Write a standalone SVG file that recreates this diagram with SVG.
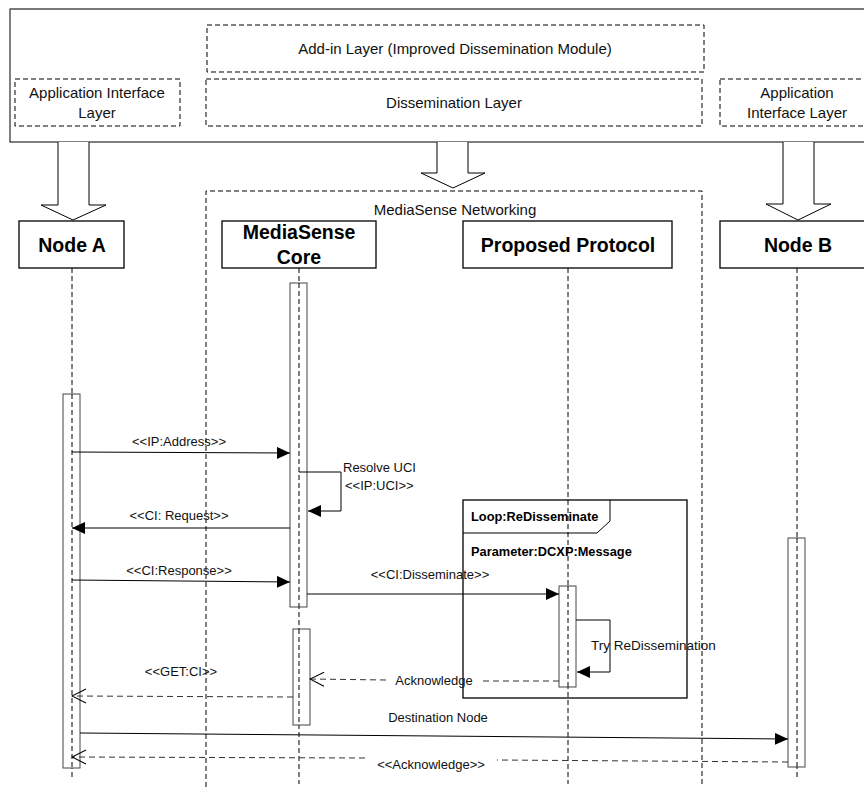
<svg xmlns="http://www.w3.org/2000/svg" width="864" height="787" viewBox="0 0 864 787">
  <style>
    .txt { font-family: "Liberation Sans", Arial, sans-serif; font-size: 13px; fill: #111; }
    .lay { font-family: "Liberation Sans", Arial, sans-serif; font-size: 15px; fill: #111; }
    .bold { font-family: "Liberation Sans", Arial, sans-serif; font-weight: bold; font-size: 19.5px; fill: #000; }
    .sbold { font-family: "Liberation Sans", Arial, sans-serif; font-weight: bold; font-size: 12.8px; fill: #000; }
    .dash { fill: none; stroke: #000; stroke-width: 1; stroke-dasharray: 5 3; }
    .box { fill: #fff; stroke: #000; stroke-width: 1.3; }
    .bar { fill: #fff; stroke: #444; stroke-width: 1; }
    .msg { fill: none; stroke: #000; stroke-width: 1; }
    .rmsg { fill: none; stroke: #333; stroke-width: 1; stroke-dasharray: 6 4; }
    .blk { fill: #fff; stroke: #000; stroke-width: 1; }
  </style>
  <defs>
    <marker id="solidHead" markerWidth="14" markerHeight="12" refX="13" refY="6" orient="auto" markerUnits="userSpaceOnUse">
      <path d="M0,0 L13,6 L0,12 Z" fill="#000"/>
    </marker>
    <marker id="openHead" markerWidth="16" markerHeight="16" refX="15" refY="8" orient="auto" markerUnits="userSpaceOnUse">
      <path d="M1,1 L15,8 L1,15" fill="none" stroke="#000" stroke-width="1"/>
    </marker>
  </defs>

  <rect width="864" height="787" fill="#fff"/>

  <!-- System layer stack -->
  <g id="layers">
    <rect x="10" y="9" width="870" height="133" fill="#fff" stroke="#000" stroke-width="1"/>
    <line x1="10" y1="9" x2="864" y2="9" stroke="#777" stroke-width="1.5"/>
    <g id="addin-layer">
      <rect x="207" y="25" width="497" height="47" class="dash"/>
      <text class="lay" x="455" y="54" text-anchor="middle">Add-in Layer (Improved Dissemination Module)</text>
    </g>
    <g id="dissemination-layer">
      <rect x="206" y="79" width="496" height="47" class="dash"/>
      <text class="lay" x="454" y="108" text-anchor="middle">Dissemination Layer</text>
    </g>
    <g id="app-layer-a">
      <rect x="15" y="79" width="165" height="47" class="dash"/>
      <text class="lay" x="97" y="98" text-anchor="middle">Application Interface</text>
      <text class="lay" x="97" y="118" text-anchor="middle">Layer</text>
    </g>
    <g id="app-layer-b">
      <rect x="720" y="79" width="160" height="47" class="dash"/>
      <text class="lay" x="797" y="98" text-anchor="middle">Application</text>
      <text class="lay" x="797" y="118" text-anchor="middle">Interface Layer</text>
    </g>
  </g>

  <!-- Block arrows from layers -->
  <g id="block-arrows">
    <path class="blk" d="M58,142 L58,205 L41,205 L73,220 L106,205 L89,205 L89,142"/>
    <path class="blk" d="M437,142 L437,173 L421,173 L453,188 L485,173 L468,173 L468,142"/>
    <path class="blk" d="M783,142 L783,204 L766,204 L798,220 L831,204 L814,204 L814,142"/>
  </g>

  <!-- MediaSense Networking boundary -->
  <g id="mediasense-networking">
    <path class="dash" d="M206,787 L206,191 L702,191 L702,787"/>
    <text class="lay" x="455" y="215" text-anchor="middle">MediaSense Networking</text>
  </g>

  <!-- Lifelines -->
  <g id="lifelines">
    <line class="dash" x1="72" y1="268" x2="72" y2="778"/>
    <line class="dash" x1="299" y1="268" x2="299" y2="784"/>
    <line class="dash" x1="568" y1="268" x2="568" y2="784"/>
    <line class="dash" x1="797" y1="268" x2="797" y2="780"/>
  </g>

  <!-- Participants -->
  <g id="node-a">
    <rect class="box" x="19" y="221" width="105" height="47"/>
    <text class="bold" x="72" y="252" text-anchor="middle">Node A</text>
  </g>
  <g id="mediasense-core">
    <rect class="box" x="222" y="221" width="154" height="47"/>
    <text class="bold" x="299" y="239" text-anchor="middle">MediaSense</text>
    <text class="bold" x="299" y="264" text-anchor="middle">Core</text>
  </g>
  <g id="proposed-protocol">
    <rect class="box" x="463" y="221" width="209" height="47"/>
    <text class="bold" x="568" y="252" text-anchor="middle">Proposed Protocol</text>
  </g>
  <g id="node-b">
    <rect class="box" x="720" y="221" width="160" height="47"/>
    <text class="bold" x="798" y="252" text-anchor="middle">Node B</text>
  </g>

  <!-- Loop fragment -->
  <g id="loop-frame">
    <rect x="463" y="500" width="224" height="198" fill="none" stroke="#000" stroke-width="1.3"/>
    <path d="M463,533 L597,533 L610,521 L610,500" fill="none" stroke="#000" stroke-width="1"/>
    <text class="sbold" x="471" y="521">Loop:ReDisseminate</text>
    <text class="sbold" x="471" y="556">Parameter:DCXP:Message</text>
  </g>

  <!-- Activation bars -->
  <g id="activations">
    <rect class="bar" x="63" y="394" width="17" height="374"/>
    <rect class="bar" x="290" y="283" width="17" height="324"/>
    <rect class="bar" x="293" y="629" width="17" height="96"/>
    <rect class="bar" x="559" y="586" width="17" height="101"/>
    <rect class="bar" x="788" y="538" width="17" height="229"/>
    <line class="dash" x1="72" y1="394" x2="72" y2="768"/>
    <line class="dash" x1="299" y1="283" x2="299" y2="607"/>
    <line class="dash" x1="299" y1="629" x2="299" y2="725"/>
    <line class="dash" x1="568" y1="586" x2="568" y2="687"/>
    <line class="dash" x1="797" y1="538" x2="797" y2="767"/>
  </g>

  <!-- Messages -->
  <g id="connectors">
    <line class="msg" x1="72" y1="452" x2="290" y2="453" marker-end="url(#solidHead)"/>
    <text class="txt" x="179" y="446" text-anchor="middle">&lt;&lt;IP:Address&gt;&gt;</text>

    <path class="msg" d="M299,472 L341,472 L341,511 L308,511" marker-end="url(#solidHead)"/>
    <text class="txt" x="343" y="472">Resolve UCI</text>
    <text class="txt" x="345" y="490">&lt;&lt;IP:UCI&gt;&gt;</text>

    <line class="msg" x1="290" y1="528" x2="72" y2="528" marker-end="url(#solidHead)"/>
    <text class="txt" x="179" y="520" text-anchor="middle">&lt;&lt;CI: Request&gt;&gt;</text>

    <line class="msg" x1="72" y1="580" x2="290" y2="582" marker-end="url(#solidHead)"/>
    <text class="txt" x="179" y="575" text-anchor="middle">&lt;&lt;CI:Response&gt;&gt;</text>

    <line class="msg" x1="307" y1="594" x2="559" y2="594" marker-end="url(#solidHead)"/>
    <text class="txt" x="430" y="579" text-anchor="middle">&lt;&lt;CI:Disseminate&gt;&gt;</text>

    <path class="msg" d="M576,620 L610,620 L610,672 L577,672" marker-end="url(#solidHead)"/>
    <text class="txt" x="591" y="650" style="font-size:13.5px">Try ReDissemination</text>

    <path class="rmsg" d="M559,681 L482,681 M386,680 L310,679" marker-end="url(#openHead)"/>
    <text class="txt" x="434" y="685" text-anchor="middle">Acknowledge</text>

    <line class="rmsg" x1="293" y1="697" x2="72" y2="696" marker-end="url(#openHead)"/>
    <text class="txt" x="181" y="676" text-anchor="middle">&lt;&lt;GET:CI&gt;&gt;</text>

    <line class="msg" x1="80" y1="733" x2="788" y2="739" marker-end="url(#solidHead)"/>
    <text class="txt" x="438" y="722" text-anchor="middle">Destination Node</text>

    <path class="rmsg" d="M788,762 L497,760 M365,758 L72,757" marker-end="url(#openHead)"/>
    <text class="txt" x="431" y="769" text-anchor="middle">&lt;&lt;Acknowledge&gt;&gt;</text>
  </g>
</svg>
